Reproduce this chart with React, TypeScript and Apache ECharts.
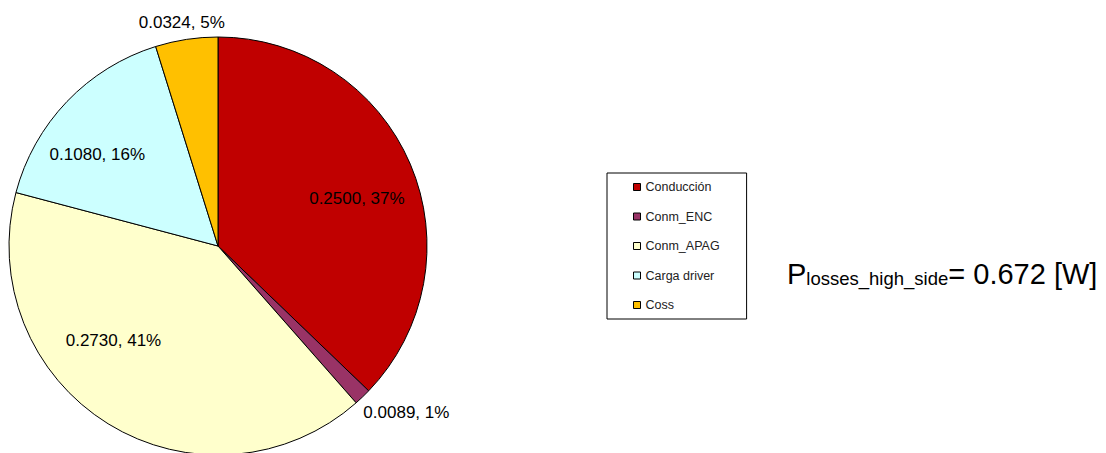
import { useEffect, useRef } from "react";
import * as echarts from "echarts";

const categories = ["Conducción", "Conm_ENC", "Conm_APAG", "Carga driver", "Coss"];
const values = [0.25, 0.0089, 0.273, 0.108, 0.0324];
const colors = ["#C00000", "#993366", "#FFFFCC", "#CCFFFF", "#FFC000"];
// label nudges (px) relative to the default inside placement, mimicking the original's label spots
const labelNudges: number[][] = [
  [40, -5],
  [114, 89],
  [-48, 3],
  [-43, -17],
  [-20, -117],
];
const totalMain = "P";
const totalSub = "losses_high_side";
const totalRest = "= 0.672 [W]";

const FONT = "'Liberation Sans', Arial, sans-serif";

export default function App() {
  const ref = useRef<HTMLDivElement>(null);
  useEffect(() => {
    if (!ref.current) return;
    const chart = echarts.init(ref.current, null, { renderer: "svg" });
    chart.setOption({
      animation: false,
      backgroundColor: "#ffffff",
      legend: {
        orient: "vertical",
        left: 607,
        top: 173,
        padding: [6, 27, 6, 26],
        itemWidth: 7,
        itemHeight: 7,
        itemGap: 13.5,
        icon: "rect",
        borderColor: "#000",
        borderWidth: 1,
        selectedMode: false,
        itemStyle: { borderColor: "#000", borderWidth: 1 },
        textStyle: { fontSize: 12.5, color: "#222", fontFamily: FONT, lineHeight: 16 },
        data: categories,
      },
      graphic: [
        {
          type: "text",
          x: 787,
          y: 258,
          style: {
            text: `{m|${totalMain}}{s|${totalSub}}{m|${totalRest}}`,
            verticalAlign: "top",
            align: "left",
            rich: {
              m: { fontSize: 29, fontFamily: FONT, fill: "#000", color: "#000", lineHeight: 30, verticalAlign: "bottom" },
              s: { fontSize: 18.5, fontFamily: FONT, fill: "#000", color: "#000", lineHeight: 9, verticalAlign: "bottom" },
            },
          },
        },
      ],
      series: [
        {
          type: "pie",
          center: [218, 246],
          radius: 209,
          startAngle: 90,
          clockwise: true,
          avoidLabelOverlap: false,
          itemStyle: { borderColor: "#000", borderWidth: 1 },
          label: {
            show: true,
            position: "inside",
            fontSize: 17,
            color: "#000",
            fontFamily: FONT,
            formatter: (p: any) => `${Number(p.value).toFixed(4)}, ${Math.round(p.percent)}%`,
          },
          labelLine: { show: false },
          labelLayout: (p: any) => ({ dx: labelNudges[p.dataIndex][0], dy: labelNudges[p.dataIndex][1] }),
          emphasis: { disabled: true },
          data: categories.map((name, i) => ({ name, value: values[i], itemStyle: { color: colors[i] } })),
        },
      ],
    });
    return () => chart.dispose();
  }, []);
  return <div ref={ref} style={{ position: "absolute", left: 0, top: 0, width: 1106, height: 453 }} />;
}
